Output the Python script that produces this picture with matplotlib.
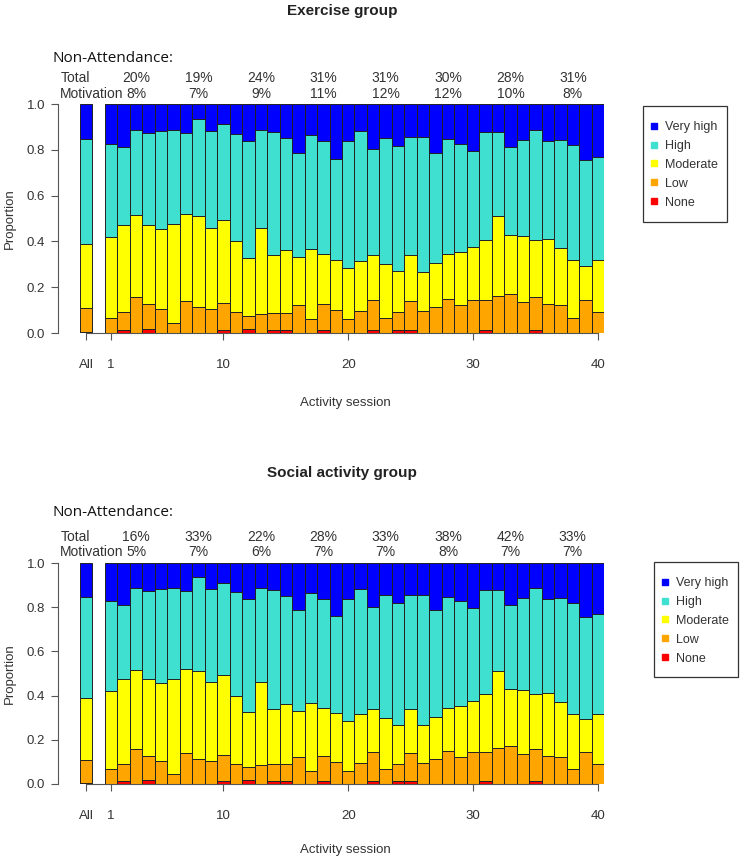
import matplotlib
matplotlib.use("Agg")
import matplotlib.pyplot as plt
from matplotlib.patches import Rectangle
from matplotlib.lines import Line2D

# bar labels: "All" then sessions 1..40
sessions = list(range(1, 41))

# proportions per motivation level, first value = "All", then sessions 1..40
none = [0.005, 0, 0.012, 0, 0.016, 0, 0, 0, 0, 0, 0.013, 0, 0.017, 0, 0.014, 0.014, 0, 0, 0.014, 0, 0,
        0, 0.014, 0, 0.014, 0.014, 0, 0, 0, 0, 0, 0.015, 0, 0, 0, 0.015, 0, 0, 0, 0, 0]
low = [0.104, 0.066, 0.080, 0.157, 0.112, 0.105, 0.044, 0.141, 0.114, 0.106, 0.117, 0.092, 0.059, 0.084,
       0.075, 0.075, 0.124, 0.060, 0.114, 0.100, 0.060, 0.096, 0.132, 0.066, 0.078, 0.127, 0.096, 0.114,
       0.148, 0.124, 0.144, 0.129, 0.163, 0.172, 0.135, 0.142, 0.128, 0.124, 0.066, 0.146, 0.092]
moderate = [0.281, 0.353, 0.381, 0.358, 0.345, 0.351, 0.432, 0.379, 0.398, 0.354, 0.365, 0.308, 0.252,
            0.376, 0.250, 0.272, 0.208, 0.307, 0.216, 0.220, 0.224, 0.220, 0.194, 0.234, 0.177, 0.199,
            0.169, 0.190, 0.196, 0.228, 0.232, 0.264, 0.348, 0.257, 0.289, 0.251, 0.284, 0.247, 0.251,
            0.147, 0.225]
high = [0.457, 0.408, 0.339, 0.373, 0.400, 0.425, 0.409, 0.353, 0.423, 0.422, 0.416, 0.468, 0.509, 0.425,
        0.539, 0.491, 0.454, 0.498, 0.494, 0.438, 0.554, 0.566, 0.462, 0.553, 0.549, 0.517, 0.592, 0.482,
        0.503, 0.475, 0.419, 0.471, 0.368, 0.383, 0.419, 0.480, 0.426, 0.472, 0.504, 0.462, 0.452]
very_high = [0.153, 0.173, 0.188, 0.112, 0.127, 0.119, 0.115, 0.127, 0.065, 0.118, 0.089, 0.132, 0.163,
             0.115, 0.122, 0.148, 0.214, 0.135, 0.162, 0.242, 0.162, 0.118, 0.198, 0.147, 0.182, 0.143,
             0.143, 0.214, 0.153, 0.173, 0.205, 0.121, 0.121, 0.188, 0.157, 0.112, 0.162, 0.157, 0.179,
             0.245, 0.231]

levels = ["None", "Low", "Moderate", "High", "Very high"]
colors = ["#FF0000", "#FFA500", "#FFFF00", "#40E0D0", "#0000FF"]

# non-attendance annotations, one per block of 5 sessions
block_mid = [3, 8, 13, 18, 23, 28, 33, 38]
ex_total = ["20%", "19%", "24%", "31%", "31%", "30%", "28%", "31%"]
ex_motiv = ["8%", "7%", "9%", "11%", "12%", "12%", "10%", "8%"]
so_total = ["16%", "33%", "22%", "28%", "33%", "38%", "42%", "33%"]
so_motiv = ["5%", "7%", "6%", "7%", "7%", "8%", "7%", "7%"]

W, H = 740, 861
fig = plt.figure(figsize=(W / 100, H / 100), dpi=100)
plt.rcParams['font.family'] = ['Liberation Sans', 'DejaVu Sans']
txt = "#333333"
axc = "#555555"


def panel(top, bottom, title, totals, motivs, title_y, na_y, tot_y, mot_y, box, lab_y):
    ax = fig.add_axes([80 / W, (H - bottom) / H, 524 / W, (bottom - top) / H])
    xpos = [-1] + sessions
    base = [0.0] * len(xpos)
    for vals, c in zip([none, low, moderate, high, very_high], colors):
        ax.bar(xpos, vals, width=1.0, bottom=base, color=c, edgecolor="#222222", linewidth=0.7)
        base = [b + v for b, v in zip(base, vals)]
    ax.set_xlim(-1.5, 40.5)
    ax.set_ylim(0, 1)
    for s in ["top", "right"]:
        ax.spines[s].set_visible(False)
    ax.spines["left"].set_position(("outward", 16))
    ax.spines["left"].set_bounds(0, 1)
    ax.spines["bottom"].set_bounds(-1, 40)
    for s in ["left", "bottom"]:
        ax.spines[s].set_color(axc)
        ax.spines[s].set_linewidth(0.8)
    ax.set_yticks([0, 0.2, 0.4, 0.6, 0.8, 1.0])
    ax.set_yticklabels(["0.0", "0.2", "0.4", "0.6", "0.8", "1.0"])
    ax.set_xticks([-1, 1, 10, 20, 30, 40])
    ax.set_xticklabels(["All", "1", "10", "20", "30", "40"])
    ax.tick_params(axis="y", length=5, width=0.8, color=axc, labelcolor=txt, labelsize=9.5, pad=4)
    ax.tick_params(axis="x", length=5, width=0.8, color=axc, labelcolor=txt, labelsize=9.5, pad=14)

    mid = (top + bottom) / 2
    fig.text(342 / W, 1 - title_y / H, title, ha="center", va="center", fontsize=11,
             fontweight="bold", color="#222222")
    fig.text(52 / W, 1 - na_y / H, "Non-Attendance:", ha="left", va="center", fontsize=11,
             family="Open Sans", color="#111111")
    fig.text(61 / W, 1 - tot_y / H, "Total", ha="left", va="center", fontsize=10, color=txt)
    fig.text(60 / W, 1 - mot_y / H, "Motivation", ha="left", va="center", fontsize=10, color=txt)
    for m, t, mv in zip(block_mid, totals, motivs):
        ax.text(m, (bottom - tot_y) / (bottom - top), t, ha="center", va="center", fontsize=10,
                color=txt, transform=ax.get_xaxis_transform())
        ax.text(m, (bottom - mot_y) / (bottom - top), mv, ha="center", va="center", fontsize=10,
                color=txt, transform=ax.get_xaxis_transform())
    fig.text(345 / W, 1 - lab_y / H, "Activity session", ha="center", va="center", fontsize=9.5,
             color=txt)
    fig.text(10 / W, 1 - mid / H, "Proportion", ha="center", va="center", rotation=90,
             fontsize=9.5, color=txt)

    # legend box (left, top, right, bottom in pixels) drawn like R's legend frame
    bl, bt, br, bb = box
    fig.patches.append(Rectangle((bl / W, 1 - bb / H), (br - bl) / W, (bb - bt) / H,
                                 transform=fig.transFigure, fill=False, edgecolor="#333333",
                                 linewidth=0.9))
    handles = [Line2D([], [], marker="s", linestyle="none", markersize=4.5, color=c) for c in colors[::-1]]
    fig.legend(handles, levels[::-1], loc="upper left",
               bbox_to_anchor=((bl + 6) / W, 1 - (bt + 15) / H), fontsize=9,
               frameon=False, handlelength=0.8, handletextpad=0.5,
               labelspacing=0.55, borderpad=0, borderaxespad=0, labelcolor=txt)
    return ax


panel(104, 333, "Exercise group", ex_total, ex_motiv, 11, 58, 78, 94, (643, 106, 727, 222), 403)
panel(563, 784, "Social activity group", so_total, so_motiv, 473, 513, 537, 552, (654, 562, 738, 677), 850)

fig.savefig("out.png", dpi=100)
